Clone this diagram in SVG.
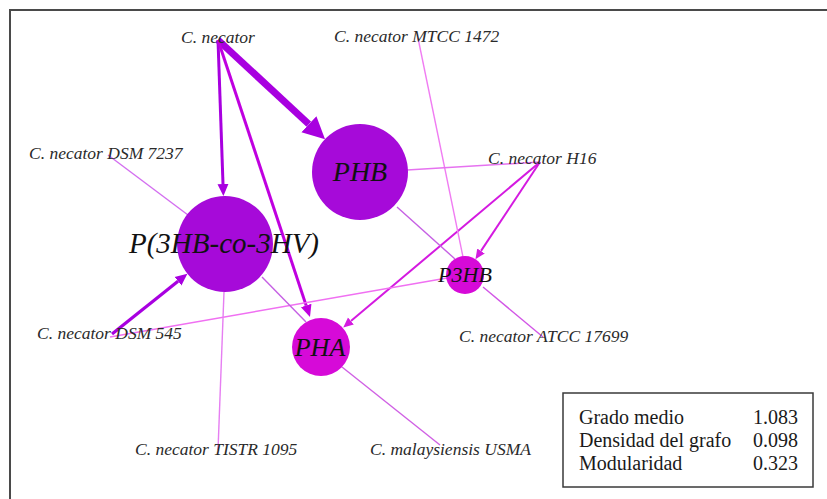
<svg xmlns="http://www.w3.org/2000/svg" width="827" height="499" viewBox="0 0 827 499">
  <style>
    .frame { fill: none; stroke: #4a4a4a; stroke-width: 2; }
    .lbl { font-family: "Liberation Serif", "Times New Roman", serif; font-style: italic; font-size: 17.5px; fill: #2a2a2a; }
    .nlbl { font-family: "Liberation Serif", "Times New Roman", serif; font-style: italic; fill: #111; text-anchor: middle; }
    .big { fill: #a60ad9; }
    .mid { fill: #d60ad8; }
    .e { fill: none; stroke-linecap: butt; }
    .thin { stroke-width: 1.4; }
    .legend { fill: #fff; stroke: #3a3a3a; stroke-width: 1.5; }
    .lt { font-family: "Liberation Serif", "Times New Roman", serif; font-size: 20px; fill: #1a1a1a; }
  </style>
  <defs>
    <marker id="hL" markerUnits="userSpaceOnUse" markerWidth="24" markerHeight="24" viewBox="0 -12 24 24" refX="0" refY="0" orient="auto">
      <path d="M0,-11 L22,0 L0,11 Z" fill="#a800e0"/>
    </marker>
    <marker id="hP" markerUnits="userSpaceOnUse" markerWidth="14" markerHeight="14" viewBox="0 -7 14 14" refX="0" refY="0" orient="auto">
      <path d="M0,-5.5 L12,0 L0,5.5 Z" fill="#a800e0"/>
    </marker>
    <marker id="hQ" markerUnits="userSpaceOnUse" markerWidth="14" markerHeight="14" viewBox="0 -7 14 14" refX="0" refY="0" orient="auto">
      <path d="M0,-5.5 L12,0 L0,5.5 Z" fill="#c000e0"/>
    </marker>
    <marker id="hM" markerUnits="userSpaceOnUse" markerWidth="12" markerHeight="12" viewBox="0 -6 12 12" refX="0" refY="0" orient="auto">
      <path d="M0,-4.5 L10,0 L0,4.5 Z" fill="#d41ae0"/>
    </marker>
  </defs>

  <rect class="frame" x="10" y="10" width="830" height="500"/>

  <g id="edges">
    <!-- directed edges -->
    <line class="e" x1="218" y1="40" x2="308.9" y2="124.3" stroke="#a800e0" stroke-width="7" marker-end="url(#hL)"/>
    <line class="e" x1="218" y1="40" x2="223" y2="184" stroke="#a800e0" stroke-width="3" marker-end="url(#hP)"/>
    <line class="e" x1="218" y1="40" x2="306.2" y2="305.6" stroke="#c000e0" stroke-width="3" marker-end="url(#hQ)"/>
    <line class="e" x1="112" y1="334" x2="178" y2="281.3" stroke="#a800e0" stroke-width="3.2" marker-end="url(#hP)"/>
    <line class="e" x1="540" y1="162" x2="481" y2="250.9" stroke="#d41ae0" stroke-width="2" marker-end="url(#hM)"/>
    <line class="e" x1="540" y1="162" x2="350.9" y2="321" stroke="#d41ae0" stroke-width="2" marker-end="url(#hM)"/>
    <!-- undirected edges -->
    <line class="e thin" x1="418" y1="38" x2="463" y2="257" stroke="#f07cf2"/>
    <line class="e thin" x1="108" y1="155" x2="188" y2="215" stroke="#d36ef0"/>
    <line class="e thin" x1="540" y1="162" x2="407" y2="170" stroke="#e672f0" stroke-width="1.6"/>
    <line class="e thin" x1="397" y1="207" x2="455" y2="259" stroke="#c660e4" stroke-width="1.6"/>
    <line class="e thin" x1="483" y1="287" x2="543" y2="337" stroke="#d256e6"/>
    <line class="e thin" x1="110" y1="337" x2="447" y2="278" stroke="#f070f2"/>
    <line class="e thin" x1="262" y1="277" x2="306" y2="322" stroke="#c660e4"/>
    <line class="e thin" x1="218" y1="450" x2="224" y2="292" stroke="#e67ef2"/>
    <line class="e thin" x1="342" y1="367" x2="440" y2="445" stroke="#d060e4"/>
  </g>

  <g id="n-cnecator"><text class="lbl" x="181" y="43">C. necator</text></g>
  <g id="n-mtcc1472"><text class="lbl" x="334" y="42">C. necator MTCC 1472</text></g>
  <g id="n-dsm7237"><text class="lbl" x="29" y="159">C. necator DSM 7237</text></g>
  <g id="n-h16"><text class="lbl" x="488" y="164">C. necator H16</text></g>
  <g id="n-dsm545"><text class="lbl" x="37" y="339">C. necator DSM 545</text></g>
  <g id="n-atcc17699"><text class="lbl" x="459" y="342">C. necator ATCC 17699</text></g>
  <g id="n-tistr1095"><text class="lbl" x="135" y="455">C. necator TISTR 1095</text></g>
  <g id="n-usma"><text class="lbl" x="370" y="455">C. malaysiensis USMA</text></g>

  <g id="n-phb">
    <circle class="big" cx="360" cy="172" r="48"/>
    <text class="nlbl" x="360" y="181" font-size="28">PHB</text>
  </g>
  <g id="n-p3hbco3hv">
    <circle class="big" cx="225" cy="244" r="48"/>
    <text class="nlbl" x="224" y="253" font-size="29">P(3HB-co-3HV)</text>
  </g>
  <g id="n-p3hb">
    <circle class="mid" cx="465" cy="275" r="19"/>
    <text class="nlbl" x="465" y="282" font-size="22">P3HB</text>
  </g>
  <g id="n-pha">
    <circle class="mid" cx="321" cy="347" r="29"/>
    <text class="nlbl" x="320" y="356" font-size="26">PHA</text>
  </g>

  <g id="legend">
    <rect class="legend" x="563" y="393" width="250" height="94"/>
    <text class="lt" x="579" y="424">Grado medio</text>
    <text class="lt" x="753" y="424">1.083</text>
    <text class="lt" x="579" y="447">Densidad del grafo</text>
    <text class="lt" x="753" y="447">0.098</text>
    <text class="lt" x="579" y="470">Modularidad</text>
    <text class="lt" x="753" y="470">0.323</text>
  </g>
</svg>
